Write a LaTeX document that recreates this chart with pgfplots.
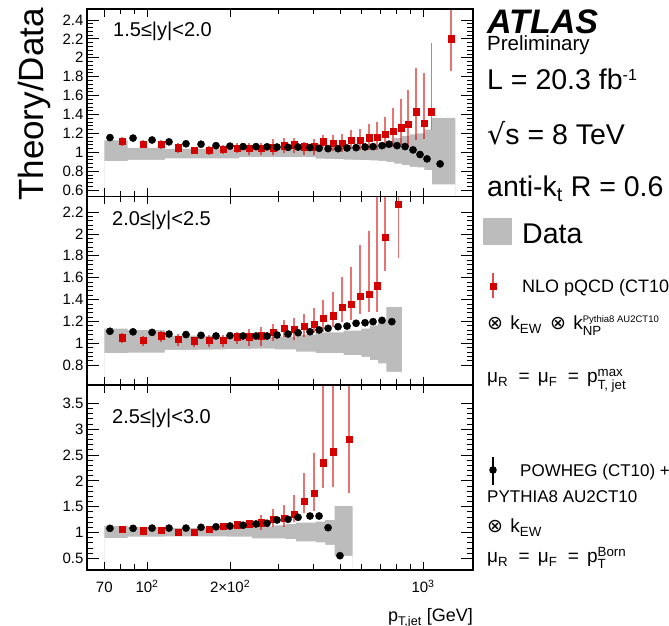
\documentclass[border=0pt]{standalone}
\usepackage{pgfplots}
\pgfplotsset{compat=1.18}
\usepackage{pgfplotstable}
\usepackage{amsmath}
\usepackage{fontspec}
\setmainfont{Liberation Sans}
\newfontfamily\dejavu{DejaVu Sans}
\newcommand{\fs}[1]{\fontsize{#1}{#1}\selectfont}
\definecolor{nlored}{RGB}{212,0,0}
\definecolor{bandgray}{RGB}{188,188,188}

% ---------- 1.5 <= |y| < 2.0 ----------
\pgfplotstableread{
x lo hi
70 0.905 1.125
85 0.92 1.046
101 0.92 1.046
116 0.935 1.036
134 0.935 1.036
152 0.935 1.035
172 0.935 1.035
194 0.935 1.035
216 0.948 1.034
240 0.948 1.034
264 0.948 1.034
290 0.948 1.034
318 0.948 1.034
346 0.948 1.034
376 0.948 1.036
408 0.932 1.04
442 0.93 1.042
478 0.928 1.045
516 0.922 1.05
556 0.92 1.055
598 0.918 1.06
642 0.915 1.07
688 0.91 1.09
736 0.897 1.12
786 0.88 1.15
838 0.865 1.17
894 0.845 1.19
952 0.84 1.20
1012 0.81 1.24
1076 0.66 1.365
1310 0.66 1.365
}\bandA
\pgfplotstableread{
x y lo hi
81.2 1.12 1.065 1.165
96.7 1.085 1.04 1.13
112.4 1.085 1.035 1.13
129.5 1.05 0.996 1.095
148.0 1.02 0.98 1.06
167.7 1.02 0.97 1.065
188.6 1.03 0.98 1.08
211.9 1.04 0.99 1.10
234.2 1.04 0.97 1.095
258.8 1.045 0.97 1.10
286.1 1.05 0.97 1.14
313.6 1.07 0.99 1.15
340.9 1.08 0.99 1.15
370.6 1.06 0.97 1.11
402.9 1.06 0.97 1.14
434.3 1.11 1.04 1.18
472.0 1.095 1.01 1.18
508.8 1.095 1.00 1.19
548.5 1.13 1.03 1.235
591.2 1.13 1.02 1.25
637.4 1.155 1.02 1.296
681.4 1.16 1.02 1.324
728.4 1.19 1.04 1.377
778.6 1.225 1.06 1.465
832.4 1.26 1.077 1.561
882.4 1.30 1.053 1.659
943.2 1.43 1.13 1.889
1008 1.31 1.137 1.836
1072 1.43 1.236 2.153
1263 2.20 1.864 2.60
}\nloA
\pgfplotstableread{
x y
73.4 1.155
89.0 1.15
104.3 1.13
120.1 1.11
138.4 1.09
156.9 1.085
177.8 1.07
199.8 1.065
222.8 1.06
248.3 1.06
272.2 1.058
295.8 1.055
324.3 1.052
352.5 1.055
389.5 1.05
420.1 1.042
452.8 1.038
492.0 1.038
530.4 1.045
572.0 1.049
616.5 1.056
659.0 1.06
710.2 1.07
753 1.085
805 1.07
860.6 1.06
920 1.025
975 0.976
1034 0.93
1153 0.877
}\powA

% ---------- 2.0 <= |y| < 2.5 ----------
\pgfplotstableread{
x lo hi
70 0.91 1.135
85 0.915 1.12
101 0.915 1.12
116 0.94 1.07
134 0.94 1.07
152 0.942 1.065
172 0.944 1.062
194 0.946 1.06
216 0.95 1.058
240 0.952 1.056
264 0.952 1.056
290 0.945 1.06
318 0.945 1.06
346 0.925 1.08
376 0.925 1.08
408 0.91 1.10
442 0.91 1.10
478 0.91 1.10
516 0.893 1.115
556 0.893 1.115
598 0.875 1.135
642 0.847 1.165
688 0.817 1.20
736 0.74 1.33
838 0.74 1.33
}\bandB
\pgfplotstableread{
x y lo hi
81.2 1.05 1.006 1.09
96.7 1.03 0.976 1.067
112.4 1.07 1.015 1.115
129.5 1.036 0.976 1.085
148.0 1.024 0.97 1.06
167.7 1.03 0.97 1.073
188.6 1.03 0.97 1.079
211.9 1.06 0.994 1.106
234.2 1.06 0.976 1.128
258.8 1.07 0.98 1.15
286.1 1.10 1.02 1.18
313.6 1.137 1.06 1.213
340.9 1.128 1.03 1.234
370.6 1.158 1.06 1.268
402.9 1.177 1.09 1.32
434.3 1.229 1.106 1.40
472.0 1.253 1.152 1.47
508.8 1.329 1.198 1.61
548.5 1.356 1.21 1.70
591.2 1.432 1.27 1.90
637.4 1.448 1.29 2.03
681.4 1.527 1.29 2.40
728.4 1.968 1.66 2.40
814 2.273 1.78 2.40
}\nloB
\pgfplotstableread{
x y
73.4 1.11
89.0 1.105
104.3 1.10
120.1 1.085
138.4 1.08
156.9 1.073
177.8 1.067
199.8 1.07
222.8 1.067
248.3 1.067
272.2 1.067
295.8 1.076
324.3 1.085
352.5 1.097
389.5 1.106
420.1 1.122
452.8 1.137
492.0 1.152
530.4 1.158
572.0 1.183
616.5 1.188
659.0 1.198
710.2 1.21
771 1.198
}\powB

% ---------- 2.5 <= |y| < 3.0 ----------
\pgfplotstableread{
x lo hi
70 0.89 1.125
85 0.92 1.11
101 0.92 1.11
116 0.925 1.09
134 0.925 1.09
152 0.925 1.09
172 0.925 1.09
194 0.92 1.10
216 0.92 1.10
240 0.888 1.12
264 0.888 1.12
290 0.888 1.14
318 0.87 1.16
346 0.83 1.19
376 0.83 1.19
408 0.81 1.21
442 0.76 1.24
478 0.545 1.51
556 0.545 1.51
}\bandC
\pgfplotstableread{
x y lo hi
81.2 1.06 1.02 1.095
96.7 1.035 1.0 1.07
112.4 1.048 1.01 1.085
129.5 1.0 0.965 1.035
148.0 1.003 0.965 1.04
167.7 1.068 1.03 1.105
188.6 1.126 1.08 1.17
211.9 1.15 1.10 1.20
234.2 1.17 1.11 1.24
258.8 1.19 1.05 1.34
286.1 1.255 1.113 1.45
313.6 1.274 1.10 1.53
340.9 1.358 1.21 1.726
370.6 1.61 1.37 2.146
402.9 1.758 1.42 2.54
434.3 2.35 1.855 3.9
472.0 2.564 1.887 3.9
539 2.80 1.758 3.9
}\nloC
\pgfplotstableread{
x y
73.4 1.08
89.0 1.08
104.3 1.085
120.1 1.085
138.4 1.085
156.9 1.10
177.8 1.11
199.8 1.125
222.8 1.14
248.3 1.165
272.2 1.178
295.8 1.242
324.3 1.255
352.5 1.294
389.5 1.319
420.1 1.319
452.8 1.093
500 0.551
}\powC

% The pT axis is logarithmic: positions are log10(pT), ticks at 70,100,200,1000 GeV
\pgfplotsset{
  ratiopanel/.style={
    scale only axis, width=386pt,
    xmin=1.7825, xmax=3.181,
    axis on top,
    axis line style={line width=1.3pt},
    tick align=inside, xtick pos=both, ytick pos=both,
    major tick length=12pt, minor tick length=6pt,
    tick style={black, line width=0.8pt},
    xtick style={/pgfplots/major tick length=8pt, /pgfplots/minor tick length=5.5pt},
    xtick={1.845098,2,2.30103,3},
    minor xtick={1.90309,1.954243,2.477121,2.60206,2.69897,2.778151,2.845098,2.90309,2.954243},
    minor y tick num=4,
    /pgf/number format/assume math mode=true,
    ticklabel style={font=\fs{15}},
  },
  nlostyle/.style={only marks, mark=square*, mark size=3.2pt, color=nlored,
    error bars/y dir=both, error bars/y explicit, error bars/error mark=none,
    error bars/error bar style={line width=1.5pt, color=nlored, opacity=0.55}},
  powstyle/.style={only marks, mark=*, mark size=3.6pt, color=black},
}

\begin{document}
\begin{tikzpicture}
\useasboundingbox (0pt,0pt) rectangle (669pt,626pt);
\clip (0pt,0pt) rectangle (669pt,626pt);

% top panel
\begin{axis}[ratiopanel, at={(87pt,429.5pt)}, anchor=south west,
  height=187.5pt, ymin=0.532, ymax=2.516,
  ytick={0.6,0.8,1,1.2,1.4,1.6,1.8,2,2.2,2.4}, xticklabels={}]
\addplot[const plot mark left, fill=bandgray, draw=none] table[x expr=log10(\thisrow{x}),y=hi]{\bandA} \closedcycle;
\addplot[const plot mark left, fill=white, draw=none] table[x expr=log10(\thisrow{x}),y=lo]{\bandA} \closedcycle;
\addplot[nlostyle]
  table[x expr=log10(\thisrow{x}), y=y, y error plus expr=\thisrow{hi}-\thisrow{y}, y error minus expr=\thisrow{y}-\thisrow{lo}]{\nloA};
\addplot[powstyle] table[x expr=log10(\thisrow{x}), y=y]{\powA};
\end{axis}

% middle panel
\begin{axis}[ratiopanel, at={(87pt,241pt)}, anchor=south west,
  height=188.5pt, ymin=0.619, ymax=2.342,
  ytick={0.8,1,1.2,1.4,1.6,1.8,2,2.2}, xticklabels={}]
\addplot[const plot mark left, fill=bandgray, draw=none] table[x expr=log10(\thisrow{x}),y=hi]{\bandB} \closedcycle;
\addplot[const plot mark left, fill=white, draw=none] table[x expr=log10(\thisrow{x}),y=lo]{\bandB} \closedcycle;
\addplot[nlostyle]
  table[x expr=log10(\thisrow{x}), y=y, y error plus expr=\thisrow{hi}-\thisrow{y}, y error minus expr=\thisrow{y}-\thisrow{lo}]{\nloB};
\addplot[powstyle] table[x expr=log10(\thisrow{x}), y=y]{\powB};
\end{axis}

% bottom panel
\begin{axis}[ratiopanel, at={(87pt,56pt)}, anchor=south west,
  height=185pt, ymin=0.274, ymax=3.855,
  ytick={0.5,1,1.5,2,2.5,3,3.5},
  xticklabels={{70},{10$^{\text{2}}$},{2×10$^{\text{2}}$},{10$^{\text{3}}$}},
  xticklabel style={anchor=base, yshift=-23pt}]
\addplot[const plot mark left, fill=bandgray, draw=none] table[x expr=log10(\thisrow{x}),y=hi]{\bandC} \closedcycle;
\addplot[const plot mark left, fill=white, draw=none] table[x expr=log10(\thisrow{x}),y=lo]{\bandC} \closedcycle;
\addplot[nlostyle]
  table[x expr=log10(\thisrow{x}), y=y, y error plus expr=\thisrow{hi}-\thisrow{y}, y error minus expr=\thisrow{y}-\thisrow{lo}]{\nloC};
\addplot[powstyle] table[x expr=log10(\thisrow{x}), y=y]{\powC};
\end{axis}

% axis titles
\node[rotate=90, anchor=base east, inner sep=0pt] at (43pt,618pt) {\fs{35}Theory/Data};
\node[anchor=base east, inner sep=0pt] at (473pt,4pt) {\fs{18}p$_{\text{T,jet}}$ [GeV]};

% rapidity bins
\node[anchor=base west, inner sep=0pt] at (113pt,589.3pt) {\fs{20}1.5≤|y|<2.0};
\node[anchor=base west, inner sep=0pt] at (112pt,400pt) {\fs{20}2.0≤|y|<2.5};
\node[anchor=base west, inner sep=0pt] at (112pt,202.7pt) {\fs{20}2.5≤|y|<3.0};

% labels and legend
\node[anchor=base west, inner sep=0pt] at (487pt,592pt) {\fs{34}\bfseries\itshape ATLAS};
\node[anchor=base west, inner sep=0pt] at (487pt,575pt) {\fs{20.5}Preliminary};
\node[anchor=base west, inner sep=0pt] at (487pt,536pt) {\fs{28.5}L = 20.3 fb\textsuperscript{\fs{16}-1}};
\node[anchor=base west, inner sep=0pt] at (487pt,481pt) {\fs{28.5}{\dejavu √}s = 8 TeV};
\node[anchor=base west, inner sep=0pt] at (487pt,429pt) {\fs{28.5}anti-k$_{\text{t}}$ R = 0.6};

\fill[bandgray] (483pt,381pt) rectangle (512pt,408pt);
\node[anchor=base west, inner sep=0pt] at (522pt,382pt) {\fs{28.5}Data};

\draw[nlored, opacity=0.7, line width=1.6pt] (493pt,328pt) -- (493pt,353pt);
\fill[nlored] (489.5pt,335.5pt) rectangle (496.5pt,342.5pt);
\node[anchor=base west, inner sep=0pt] at (522pt,333pt) {\fs{18}NLO pQCD (CT10)};
\node[anchor=base west, inner sep=0pt] at (487pt,296pt) {\fs{19}{\dejavu ⊗}\hspace{2pt} k$_{\text{EW}}$\hspace{3pt} {\dejavu ⊗}\hspace{2pt} k$^{\scriptscriptstyle\text{Pythia8 AU2CT10}}_{\text{NP}}$};
\node[anchor=base west, inner sep=0pt] at (487pt,243pt) {\fs{19}μ$_{\text{R}}$\hspace{5pt} = \hspace{3pt}μ$_{\text{F}}$\hspace{5pt} = \hspace{3pt}p$^{\text{max}}_{\text{T, jet}}$};

\draw[black, line width=1.6pt] (493pt,141pt) -- (493pt,169pt);
\fill[black] (493pt,156pt) circle (3.8pt);
\node[anchor=base west, inner sep=0pt] at (520pt,149pt) {\fs{17}POWHEG (CT10) +};
\node[anchor=base west, inner sep=0pt] at (487pt,123pt) {\fs{17}PYTHIA8 AU2CT10};
\node[anchor=base west, inner sep=0pt] at (487pt,93pt) {\fs{19}{\dejavu ⊗}\hspace{2pt} k$_{\text{EW}}$};
\node[anchor=base west, inner sep=0pt] at (487pt,63pt) {\fs{19}μ$_{\text{R}}$\hspace{5pt} = \hspace{3pt}μ$_{\text{F}}$\hspace{5pt} = \hspace{3pt}p$^{\text{Born}}_{\text{T}}$};
\end{tikzpicture}
\end{document}
